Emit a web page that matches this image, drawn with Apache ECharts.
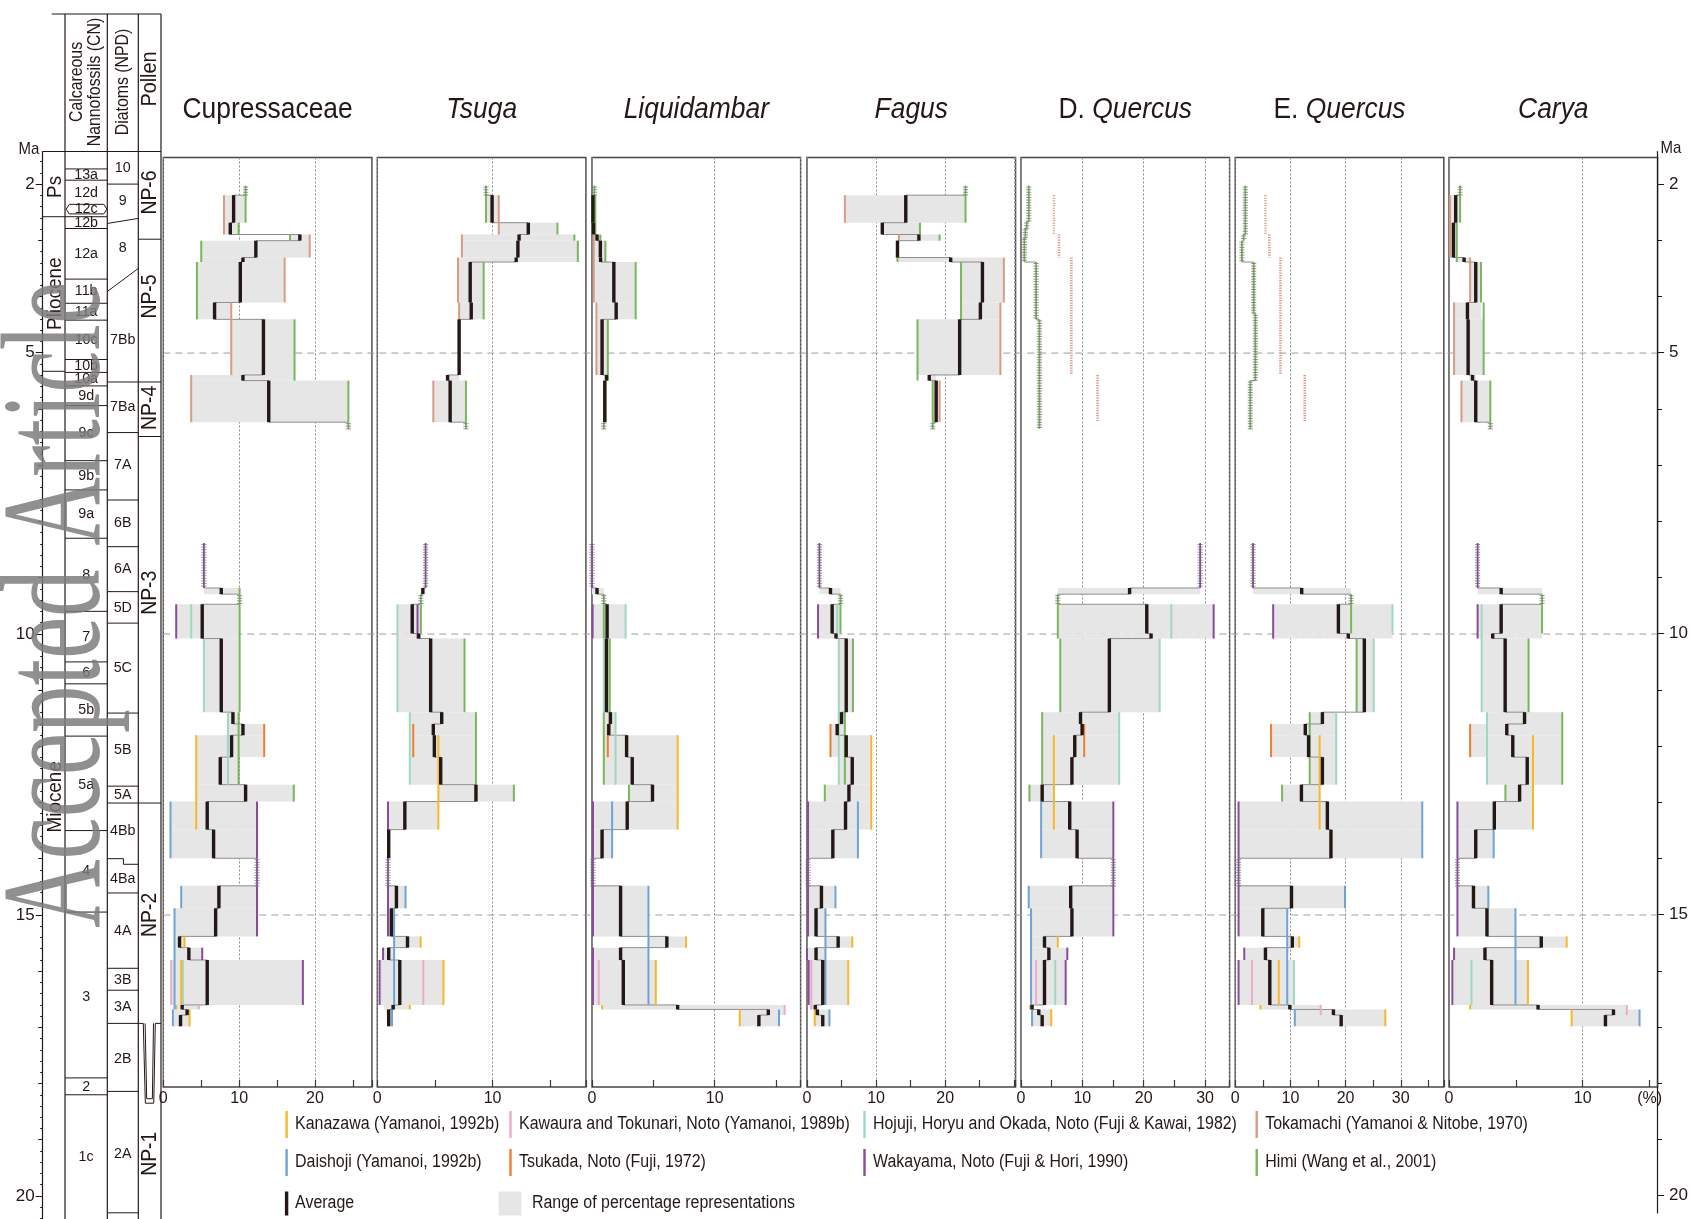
<!DOCTYPE html>
<html>
<head>
<meta charset="utf-8">
<title>Pollen percentages of selected taxa, Hokuriku region</title>
<script src="https://cdn.jsdelivr.net/npm/echarts@6/dist/echarts.min.js"></script>
<style>
  html, body { margin: 0; padding: 0; background: #ffffff; }
  #chart { width: 1691px; height: 1219px; }
</style>
</head>
<body>
<div id="chart"></div>
<script>
// ---------------------------------------------------------------------------
// Sites (legend order) and their line colours
// ---------------------------------------------------------------------------
const siteNames = [
  'Kanazawa (Yamanoi, 1992b)',
  'Daishoji (Yamanoi, 1992b)',
  'Kawaura and Tokunari, Noto (Yamanoi, 1989b)',
  'Tsukada, Noto (Fuji, 1972)',
  'Hojuji, Horyu and Okada, Noto (Fuji & Kawai, 1982)',
  'Wakayama, Noto (Fuji & Hori, 1990)',
  'Tokamachi (Yamanoi & Nitobe, 1970)',
  'Himi (Wang et al., 2001)'
];
const siteColors = ['#f6b828', '#6fa3d6', '#eeaacb', '#ee7d33', '#9fd7c2', '#8a4b9d', '#d99b87', '#79b65c'];
const KAN = 0, DAI = 1, KAW = 2, TSU = 3, HOJ = 4, WAK = 5, TOK = 6, HIM = 7;

// Taxa, x-axis extents (%) and labelled percentages
const taxa = ['Cupressaceae', 'Tsuga', 'Liquidambar', 'Fagus', 'D. Quercus', 'E. Quercus', 'Carya'];
const taxonItalic = ['', 'Tsuga', 'Liquidambar', 'Fagus', 'Quercus', 'Quercus', 'Carya'];
const axisMax = [27.5, 18.1, 17.0, 30.2, 34.0, 37.8, 15.6];
const percentLabels = [[0, 10, 20], [0, 10], [0, 10], [0, 10, 20], [0, 10, 20, 30], [0, 10, 20, 30], [0, 10]];
const percentUnitLabel = [null, null, null, null, null, null, 15]; // tick that carries "(%)"

// Age (Ma) ticks and guide lines
const maLabels = [2, 5, 10, 15, 20];
const maGuides = [5, 10, 15];

// ---------------------------------------------------------------------------
// Per-taxon data
// rows:    [topMa, bottomMa, minimum %, maximum %, average %]
// ladders: [site, topMa, bottomMa, %]   single-record intervals
// sites:   [site, topMa, bottomMa, %]
// dotted:  [site, topMa, bottomMa, %]
// ---------------------------------------------------------------------------
const cupressaceaeRows = [
  [2.19, 2.68, 8.0, 10.85, 9.27], [2.68, 2.89, 8.0, 9.93, 8.83], [2.89, 3.00, 16.7, 19.3, 18.0],
  [3.00, 3.30, 5.0, 19.3, 12.2], [3.30, 3.38, 5.0, 16.0, 10.5], [3.38, 4.10, 4.43, 16.0, 10.15],
  [4.10, 4.40, 4.43, 8.96, 6.76], [4.40, 5.39, 8.96, 17.3, 13.2], [5.39, 5.49, 3.68, 17.3, 10.5],
  [5.49, 6.23, 3.68, 24.4, 13.9],
  [9.18, 9.29, 5.35, 10.06, 7.64], [9.47, 10.08, 1.7, 10.06, 5.13], [10.08, 11.39, 5.35, 10.06, 7.64],
  [11.39, 11.60, 8.52, 9.93, 9.18], [11.60, 11.80, 8.52, 13.3, 10.5], [11.80, 12.19, 4.34, 13.3, 9.0],
  [12.19, 12.68, 4.34, 9.93, 7.51], [12.68, 12.98, 4.34, 17.2, 10.85], [12.98, 13.48, 0.95, 12.35, 5.79],
  [13.48, 13.99, 0.95, 12.35, 6.63], [14.48, 14.88, 2.36, 12.35, 7.33], [14.88, 15.38, 1.48, 12.35, 6.9],
  [15.38, 15.58, 1.48, 2.8, 2.14], [15.58, 15.80, 1.48, 5.13, 3.37], [15.80, 16.60, 1.04, 18.4, 5.79],
  [16.60, 16.68, 1.48, 4.69, 2.49], [16.68, 16.78, 1.26, 3.46, 3.14], [16.78, 16.98, 1.26, 3.46, 2.27]
];
const cupressaceaeLadders = [
  [HIM, 2.02, 2.19, 10.85], [HIM, 6.23, 6.35, 24.4], [WAK, 8.38, 9.18, 5.35], [HIM, 9.29, 9.47, 10.06], [WAK, 13.99, 14.48, 12.35]
];
const cupressaceaeSites = [
  [TOK, 2.19, 2.89, 8.0], [TOK, 2.89, 3.30, 19.3], [TOK, 3.30, 4.10, 16.0], [TOK, 4.10, 5.39, 8.96], [TOK, 5.39, 6.23, 3.68],
  [HIM, 2.19, 2.68, 10.85], [HIM, 2.68, 2.89, 9.93], [HIM, 2.89, 3.00, 16.7], [HIM, 3.00, 3.38, 5.0], [HIM, 3.38, 4.40, 4.43],
  [HIM, 4.40, 5.49, 17.3], [HIM, 5.49, 6.23, 24.4],
  [HIM, 9.18, 9.29, 10.06], [HIM, 9.47, 11.39, 10.06], [HIM, 11.39, 12.68, 9.93], [HIM, 12.68, 12.98, 17.2],
  [WAK, 9.47, 10.08, 1.7], [WAK, 12.98, 13.99, 12.35], [WAK, 14.48, 15.38, 12.35], [WAK, 15.58, 15.80, 5.13], [WAK, 15.80, 16.60, 18.4],
  [HOJ, 9.47, 10.08, 3.68], [HOJ, 10.08, 11.39, 5.35], [HOJ, 11.39, 12.68, 8.52], [HOJ, 15.80, 16.60, 2.58],
  [TSU, 11.60, 12.19, 13.3],
  [KAN, 11.80, 13.48, 4.34], [KAN, 15.38, 15.58, 2.8], [KAN, 15.80, 16.60, 2.36], [KAN, 16.60, 16.68, 1.7], [KAN, 16.68, 16.98, 3.46],
  [DAI, 12.98, 13.99, 0.95], [DAI, 14.48, 14.88, 2.36], [DAI, 14.88, 16.68, 1.48], [DAI, 16.68, 16.98, 1.26],
  [KAW, 15.80, 16.60, 1.04], [KAW, 16.60, 16.68, 4.69]
];

const tsugaRows = [
  [2.19, 2.68, 9.43, 10.54, 9.96], [2.68, 2.89, 10.54, 15.63, 13.1], [2.89, 3.00, 7.34, 17.1, 12.3],
  [3.00, 3.30, 7.34, 17.4, 12.2], [3.30, 3.38, 7.0, 17.4, 12.05], [3.38, 4.10, 7.0, 9.23, 8.06],
  [4.10, 4.40, 7.1, 9.23, 8.15], [4.40, 5.39, 7.1, 7.1, 7.1], [5.39, 5.49, 6.1, 7.1, 6.1],
  [5.49, 6.23, 4.86, 7.69, 6.32],
  [9.18, 9.29, 3.78, 4.19, 3.95], [9.47, 9.99, 1.75, 3.78, 3.03], [9.99, 10.08, 1.75, 3.78, 3.6],
  [10.08, 11.39, 1.75, 7.57, 4.63], [11.39, 11.60, 2.82, 8.56, 5.59], [11.60, 11.80, 2.82, 8.56, 4.86],
  [11.80, 12.19, 2.82, 8.56, 4.95], [12.19, 12.68, 2.82, 8.56, 5.5], [12.68, 12.98, 5.3, 11.85, 8.56],
  [12.98, 13.48, 0.93, 5.3, 2.39], [13.48, 13.99, 0.93, 0.99, 0.99], [14.48, 14.88, 0.93, 2.45, 1.66],
  [14.88, 15.38, 0.93, 1.46, 1.22], [15.38, 15.58, 1.46, 3.76, 2.62], [15.58, 15.80, 0.5, 1.46, 0.99],
  [15.80, 16.60, 0.2, 5.74, 1.95], [16.60, 16.68, 0.6, 2.82, 1.37], [16.68, 16.98, 0.9, 1.28, 0.99]
];
const tsugaLadders = [
  [HIM, 2.02, 2.19, 9.43], [HIM, 6.23, 6.35, 7.69], [WAK, 8.38, 9.18, 4.19], [HIM, 9.29, 9.47, 3.78], [WAK, 13.99, 14.48, 0.93]
];
const tsugaSites = [
  [TOK, 2.19, 2.89, 10.54], [TOK, 2.89, 3.30, 7.34], [TOK, 3.30, 4.10, 7.0], [TOK, 4.10, 5.39, 7.1], [TOK, 5.49, 6.23, 4.86],
  [HIM, 2.19, 2.68, 9.43], [HIM, 2.68, 2.89, 15.63], [HIM, 2.89, 3.00, 17.1], [HIM, 3.00, 3.38, 17.4], [HIM, 3.38, 4.40, 9.23],
  [HIM, 5.49, 6.23, 7.69],
  [HIM, 9.47, 9.99, 3.78], [HIM, 10.08, 11.39, 7.57], [HIM, 11.39, 12.68, 8.56], [HIM, 12.68, 12.98, 11.85],
  [WAK, 9.47, 10.08, 3.49], [WAK, 12.98, 13.99, 0.93], [WAK, 14.48, 15.38, 0.93], [WAK, 15.58, 15.80, 0.5], [WAK, 15.80, 16.60, 0.2],
  [HOJ, 9.47, 11.39, 1.75], [HOJ, 11.39, 12.68, 2.82],
  [TSU, 11.60, 12.19, 3.12],
  [KAN, 11.80, 13.48, 5.3], [KAN, 15.38, 15.58, 3.76], [KAN, 15.80, 16.60, 5.74], [KAN, 16.60, 16.68, 2.82], [KAN, 16.68, 16.78, 0.9],
  [DAI, 14.48, 14.88, 2.45], [DAI, 14.88, 16.68, 1.46], [DAI, 16.68, 16.98, 1.28],
  [KAW, 15.80, 16.60, 3.99]
];

const liquidambarRows = [
  [2.19, 2.68, 0.0, 0.27, 0.08], [2.68, 2.89, 0.0, 0.3, 0.12], [2.89, 3.00, 0.14, 0.68, 0.41],
  [3.00, 3.30, 0.14, 1.09, 0.68], [3.30, 3.38, 0.14, 1.09, 0.7], [3.38, 4.10, 0.14, 3.56, 1.78],
  [4.10, 4.40, 0.36, 3.56, 1.97], [4.40, 5.39, 0.36, 1.29, 0.82], [5.39, 5.49, 1.18, 1.18, 1.18],
  [5.49, 6.23, 0.96, 1.1, 1.04],
  [9.18, 9.29, 0.0, 0.96, 0.41], [9.47, 10.08, 0.05, 2.74, 1.23], [10.08, 11.39, 0.96, 1.45, 1.18],
  [11.39, 11.60, 0.96, 1.92, 1.5], [11.60, 11.80, 0.96, 1.92, 1.37], [11.80, 12.19, 0.96, 6.98, 2.82],
  [12.19, 12.68, 0.96, 6.98, 3.28], [12.68, 12.98, 3.01, 6.98, 4.93], [12.98, 13.48, 0.08, 6.98, 2.87],
  [13.48, 13.99, 0.08, 1.64, 0.82], [14.48, 15.38, 0.08, 4.6, 2.33], [15.38, 15.58, 4.6, 7.66, 6.1],
  [15.58, 15.80, 0.08, 4.6, 2.33], [15.80, 16.60, 0.08, 5.2, 2.55], [16.60, 16.68, 0.82, 15.7, 6.98],
  [16.68, 16.78, 12.04, 15.7, 14.37], [16.78, 16.98, 12.04, 15.24, 13.6]
];
const liquidambarLadders = [
  [HIM, 2.02, 2.19, 0.19], [HIM, 6.23, 6.35, 0.96], [WAK, 8.38, 9.18, 0.0], [HIM, 9.29, 9.47, 0.96], [WAK, 13.99, 14.48, 0.08]
];
const liquidambarSites = [
  [TOK, 2.89, 4.10, 0.14], [TOK, 4.10, 5.39, 0.36],
  [HIM, 2.19, 2.89, 0.27], [HIM, 2.89, 3.00, 0.68], [HIM, 3.00, 3.38, 1.09], [HIM, 3.38, 4.40, 3.56], [HIM, 4.40, 5.49, 1.29],
  [HIM, 5.49, 6.23, 1.1],
  [HIM, 9.47, 10.08, 0.96], [HIM, 10.08, 11.39, 1.45], [HIM, 11.39, 12.68, 0.96], [HIM, 12.68, 12.98, 3.01],
  [WAK, 9.47, 10.08, 0.05], [WAK, 12.98, 13.99, 0.08], [WAK, 14.48, 15.38, 0.08], [WAK, 15.58, 15.80, 0.08], [WAK, 15.80, 16.60, 0.08],
  [HOJ, 9.47, 10.08, 2.74], [HOJ, 10.08, 11.39, 0.96], [HOJ, 11.39, 12.68, 1.92],
  [TSU, 11.60, 12.19, 1.29],
  [KAN, 11.80, 13.48, 6.98], [KAN, 15.38, 15.58, 7.66], [KAN, 15.80, 16.60, 5.2], [KAN, 16.60, 16.68, 0.82], [KAN, 16.68, 16.98, 12.04],
  [DAI, 12.98, 13.99, 1.64], [DAI, 14.48, 16.60, 4.6], [DAI, 16.68, 16.98, 15.24],
  [KAW, 15.80, 16.60, 0.55], [KAW, 16.60, 16.78, 15.7]
];

const fagusRows = [
  [2.19, 2.68, 5.48, 22.95, 14.3], [2.68, 2.89, 10.9, 16.35, 10.9], [2.89, 3.00, 13.3, 19.2, 16.2],
  [3.00, 3.30, 12.9, 13.3, 13.1], [3.30, 3.38, 13.2, 28.4, 20.8], [3.38, 4.10, 22.3, 28.5, 25.4],
  [4.10, 4.40, 22.3, 28.0, 25.1], [4.40, 5.39, 16.0, 28.0, 22.1], [5.39, 5.49, 17.7, 18.7, 17.7],
  [5.49, 6.23, 18.2, 19.2, 18.7],
  [9.18, 9.29, 1.8, 4.85, 3.4], [9.47, 9.99, 1.6, 4.85, 3.64], [9.99, 10.08, 1.6, 4.85, 4.2],
  [10.08, 11.39, 4.6, 6.65, 5.68], [11.39, 11.60, 4.6, 5.48, 5.0], [11.60, 11.80, 3.4, 5.48, 4.37],
  [11.80, 12.19, 3.4, 9.3, 5.68], [12.19, 12.68, 4.6, 9.3, 6.55], [12.68, 12.98, 2.57, 9.3, 6.07],
  [12.98, 13.48, 0.15, 9.3, 5.58], [13.48, 13.99, 0.15, 7.37, 3.74], [14.48, 14.88, 0.15, 4.12, 2.09],
  [14.88, 15.38, 0.15, 2.67, 1.31], [15.38, 15.58, 2.67, 6.55, 4.51], [15.58, 15.80, 0.0, 2.67, 1.31],
  [15.80, 16.60, 0.24, 5.97, 2.28], [16.60, 16.68, 0.5, 1.8, 1.2], [16.68, 16.78, 1.12, 3.25, 1.5],
  [16.78, 16.98, 1.12, 3.25, 2.28]
];
const fagusLadders = [
  [HIM, 2.02, 2.19, 22.95], [HIM, 6.23, 6.35, 18.2], [WAK, 8.38, 9.18, 1.8], [HIM, 9.29, 9.47, 4.85], [WAK, 13.99, 14.48, 0.15]
];
const fagusSites = [
  [TOK, 2.19, 2.68, 5.48], [TOK, 2.89, 3.00, 13.3], [TOK, 3.30, 4.10, 28.5], [TOK, 4.10, 5.39, 28.0], [TOK, 5.49, 6.23, 19.2],
  [HIM, 2.19, 2.68, 22.95], [HIM, 2.68, 2.89, 16.35], [HIM, 2.89, 3.00, 19.2], [HIM, 3.00, 3.38, 13.1], [HIM, 3.38, 4.40, 22.3],
  [HIM, 4.40, 5.49, 16.0], [HIM, 5.49, 6.23, 18.2],
  [HIM, 9.47, 9.99, 4.85], [HIM, 10.08, 11.39, 6.65], [HIM, 11.39, 12.68, 5.48], [HIM, 12.68, 12.98, 2.57],
  [WAK, 9.47, 10.08, 1.6], [WAK, 12.98, 13.99, 0.15], [WAK, 14.48, 15.38, 0.15], [WAK, 15.58, 15.80, 0.0], [WAK, 15.80, 16.60, 0.24],
  [HOJ, 9.47, 9.99, 4.37], [HOJ, 10.08, 12.68, 4.6],
  [TSU, 11.60, 12.19, 3.4],
  [KAN, 11.80, 13.48, 9.3], [KAN, 15.38, 15.58, 6.55], [KAN, 15.80, 16.60, 5.97], [KAN, 16.68, 16.98, 1.12],
  [DAI, 12.98, 13.99, 7.37], [DAI, 14.48, 14.88, 4.12], [DAI, 14.88, 16.60, 2.67], [DAI, 16.68, 16.98, 3.25],
  [KAW, 15.80, 16.60, 0.63], [KAW, 16.60, 16.68, 0.6]
];

const dQuercusRows = [
  [9.18, 9.29, 6.0, 29.2, 17.7], [9.47, 9.99, 6.0, 31.4, 20.5], [9.99, 10.08, 6.0, 31.4, 21.2],
  [10.08, 11.39, 6.4, 22.6, 14.4], [11.39, 11.60, 3.45, 16.0, 9.7], [11.60, 11.80, 3.45, 16.0, 9.96],
  [11.80, 12.19, 3.45, 16.0, 8.76], [12.19, 12.68, 3.45, 16.0, 8.3], [12.68, 12.98, 1.37, 5.36, 3.45],
  [12.98, 13.48, 3.28, 15.05, 7.94], [13.48, 13.99, 3.28, 15.05, 9.14], [14.48, 14.88, 1.26, 15.05, 8.1],
  [14.88, 15.38, 1.64, 15.05, 8.3], [15.38, 15.58, 1.64, 6.0, 3.83], [15.58, 15.80, 1.64, 7.55, 4.54],
  [15.80, 16.60, 1.64, 7.28, 3.83], [16.60, 16.68, 1.4, 2.0, 1.8], [16.68, 16.78, 1.8, 4.93, 2.9],
  [16.78, 16.98, 1.8, 4.93, 3.45]
];
const dQuercusLadders = [
  [HIM, 2.02, 2.66, 1.26], [HIM, 2.66, 2.78, 0.93], [HIM, 2.78, 2.95, 0.71], [HIM, 2.95, 3.38, 0.55],
  [HIM, 3.38, 4.40, 2.46], [HIM, 4.40, 6.35, 3.0],
  [WAK, 8.38, 9.18, 29.2], [HIM, 9.29, 9.47, 6.0], [WAK, 13.99, 14.48, 15.05]
];
const dQuercusDotted = [[TOK, 2.19, 2.89, 5.36], [TOK, 2.89, 3.30, 6.19], [TOK, 3.30, 5.39, 8.21], [TOK, 5.39, 6.21, 12.48]];
const dQuercusSites = [
  [HIM, 9.47, 10.08, 6.0], [HIM, 10.08, 11.39, 6.4], [HIM, 11.39, 12.68, 3.45], [HIM, 12.68, 12.98, 1.37],
  [WAK, 9.47, 10.08, 31.4], [WAK, 12.98, 13.99, 15.05], [WAK, 14.48, 15.38, 15.05], [WAK, 15.58, 15.80, 7.55], [WAK, 15.80, 16.60, 7.28],
  [HOJ, 9.47, 10.08, 24.5], [HOJ, 10.08, 11.39, 22.6], [HOJ, 11.39, 12.68, 16.0], [HOJ, 15.80, 16.60, 5.58],
  [TSU, 11.60, 12.19, 10.3],
  [KAN, 11.80, 13.48, 5.36], [KAN, 15.38, 15.58, 6.0], [KAN, 16.60, 16.68, 1.5], [KAN, 16.68, 16.98, 4.93],
  [DAI, 12.98, 13.99, 3.28], [DAI, 14.48, 14.88, 1.26], [DAI, 14.88, 16.60, 1.64], [DAI, 16.68, 16.98, 1.8],
  [KAW, 15.80, 16.60, 2.46], [KAW, 16.60, 16.68, 1.9]
];

const eQuercusRows = [
  [9.18, 9.29, 3.23, 21.0, 12.05], [9.47, 9.99, 6.88, 28.5, 18.7], [9.99, 10.08, 6.88, 28.5, 20.5],
  [10.08, 11.39, 22.0, 25.1, 23.4], [11.39, 11.60, 13.5, 18.3, 15.8], [11.60, 11.80, 6.5, 18.3, 12.7],
  [11.80, 12.19, 6.5, 18.3, 13.3], [12.19, 12.68, 13.5, 18.3, 15.8], [12.68, 12.98, 8.5, 15.3, 12.0],
  [12.98, 13.48, 0.61, 33.9, 16.7], [13.48, 13.99, 0.61, 33.9, 17.35], [14.48, 14.88, 0.61, 19.9, 10.2],
  [14.88, 15.38, 0.61, 9.43, 5.0], [15.38, 15.58, 9.43, 11.6, 10.35], [15.58, 15.80, 1.64, 9.43, 5.48],
  [15.80, 16.60, 0.61, 10.65, 6.27], [16.60, 16.68, 4.56, 15.5, 9.9], [16.68, 16.78, 10.8, 27.2, 17.8],
  [16.78, 16.98, 10.8, 27.2, 19.2]
];
const eQuercusLadders = [
  [HIM, 2.02, 2.89, 1.83], [HIM, 2.89, 3.00, 1.52], [HIM, 3.00, 3.38, 1.22], [HIM, 3.38, 4.30, 3.35],
  [HIM, 4.30, 5.49, 3.65], [HIM, 5.49, 6.35, 2.74],
  [WAK, 8.38, 9.18, 3.23], [HIM, 9.29, 9.47, 21.0], [WAK, 13.99, 14.48, 0.61]
];
const eQuercusDotted = [[TOK, 2.19, 2.89, 5.48], [TOK, 2.89, 3.30, 6.2], [TOK, 3.30, 5.39, 8.2], [TOK, 5.39, 6.21, 12.6]];
const eQuercusSites = [
  [HIM, 9.47, 9.99, 21.0], [HIM, 10.08, 11.39, 22.0], [HIM, 11.39, 12.68, 13.5], [HIM, 12.68, 12.98, 8.5],
  [WAK, 9.47, 10.08, 6.88], [WAK, 12.98, 13.99, 0.61], [WAK, 14.48, 15.38, 0.61], [WAK, 15.58, 15.80, 1.64], [WAK, 15.80, 16.60, 0.61],
  [HOJ, 9.47, 9.99, 28.5], [HOJ, 10.08, 11.39, 25.1], [HOJ, 11.39, 12.68, 18.3], [HOJ, 15.80, 16.60, 10.65],
  [TSU, 11.60, 12.19, 6.5],
  [KAN, 11.80, 13.48, 15.3], [KAN, 15.38, 15.58, 11.6], [KAN, 15.80, 16.60, 7.9], [KAN, 16.60, 16.68, 4.56], [KAN, 16.68, 16.98, 27.2],
  [DAI, 12.98, 13.99, 33.9], [DAI, 14.48, 14.88, 19.9], [DAI, 14.88, 16.60, 9.43], [DAI, 16.68, 16.98, 10.8],
  [KAW, 15.80, 16.60, 3.04], [KAW, 16.60, 16.78, 15.5]
];

const caryaRows = [
  [2.19, 2.68, 0.08, 0.83, 0.5], [2.68, 3.30, 0.08, 0.58, 0.33], [3.30, 3.38, 0.6, 1.58, 1.13],
  [3.38, 4.10, 1.58, 2.39, 2.0], [4.10, 4.40, 0.38, 2.39, 1.38], [4.40, 5.39, 0.38, 2.59, 1.43],
  [5.39, 5.49, 1.5, 2.0, 1.76], [5.49, 6.23, 0.93, 3.09, 2.0],
  [9.18, 9.29, 2.14, 6.96, 3.9], [9.47, 9.99, 2.14, 6.96, 3.9], [9.99, 10.08, 2.14, 6.96, 3.27],
  [10.08, 11.39, 2.44, 5.95, 4.2], [11.39, 11.60, 2.84, 8.47, 5.65], [11.60, 11.80, 1.58, 8.47, 4.32],
  [11.80, 12.19, 1.58, 8.47, 4.77], [12.19, 12.68, 2.84, 8.47, 5.85], [12.68, 12.98, 4.22, 6.28, 5.28],
  [12.98, 13.48, 0.63, 6.28, 3.39], [13.48, 13.99, 0.63, 3.34, 2.0], [14.48, 14.88, 0.63, 2.94, 1.83],
  [14.88, 15.38, 0.63, 4.97, 2.84], [15.38, 15.58, 4.97, 8.8, 6.9], [15.58, 15.80, 0.38, 4.97, 2.69],
  [15.80, 16.60, 0.25, 5.9, 3.19], [16.60, 16.68, 1.58, 13.3, 6.66], [16.68, 16.78, 9.17, 14.25, 12.3],
  [16.78, 16.98, 9.17, 14.25, 11.7]
];
const caryaLadders = [
  [HIM, 2.02, 2.19, 0.83], [HIM, 6.23, 6.35, 3.09], [WAK, 8.38, 9.18, 2.14], [HIM, 9.29, 9.47, 6.96], [WAK, 13.99, 14.48, 0.63]
];
const caryaSites = [
  [TOK, 2.19, 3.30, 0.08], [TOK, 3.30, 4.10, 1.58], [TOK, 4.10, 5.39, 0.38], [TOK, 5.49, 6.23, 0.93],
  [HIM, 2.19, 2.68, 0.83], [HIM, 2.68, 3.38, 0.58], [HIM, 3.38, 4.10, 2.39], [HIM, 4.10, 5.39, 2.59], [HIM, 5.49, 6.23, 3.09],
  [HIM, 9.47, 9.99, 6.96], [HIM, 10.08, 11.39, 5.95], [HIM, 11.39, 12.68, 8.47], [HIM, 12.68, 12.98, 4.22],
  [WAK, 9.47, 10.08, 2.14], [WAK, 12.98, 13.99, 0.63], [WAK, 14.48, 15.38, 0.63], [WAK, 15.58, 15.80, 0.38], [WAK, 15.80, 16.60, 0.25],
  [HOJ, 9.47, 11.39, 2.44], [HOJ, 11.39, 12.68, 2.84], [HOJ, 15.80, 16.60, 1.68],
  [TSU, 11.60, 12.19, 1.58],
  [KAN, 11.80, 13.48, 6.28], [KAN, 15.38, 15.58, 8.8], [KAN, 15.80, 16.60, 5.9], [KAN, 16.60, 16.68, 1.58], [KAN, 16.68, 16.98, 9.17],
  [DAI, 13.48, 13.99, 3.34], [DAI, 14.48, 14.88, 2.94], [DAI, 14.88, 16.60, 4.97], [DAI, 16.68, 16.98, 14.25],
  [KAW, 16.60, 16.78, 13.3]
];

// ---------------------------------------------------------------------------
// Stratigraphic columns (ages in Ma)
// ---------------------------------------------------------------------------
const epochBounds = [2.58, 5.33];
const epochLabels = [[2.05, 'Ps'], [3.95, 'Pliocene'], [12.9, 'Miocene']];
const cnBounds = [1.73, 1.93, 2.58, 2.79, 3.69, 4.12, 4.42, 5.12, 5.35, 5.59, 5.94, 6.92, 7.44, 8.30, 9.60, 10.50, 10.89, 11.82, 13.50, 14.95, 17.90, 18.20];
const cn12c = [2.36, 2.53];
const cnLabels = [
  [1.83, '13a'], [2.15, '12d'], [2.445, '12c'], [2.68, '12b'], [3.23, '12a'], [3.9, '11b'], [4.27, '11a'], [4.77, '10c'],
  [5.23, '10b'], [5.47, '10a'], [5.77, '9d'], [6.43, '9c'], [7.18, '9b'], [7.87, '9a'], [8.95, '8'], [10.05, '7'],
  [10.7, '6'], [11.35, '5b'], [12.69, '5a'], [14.22, '4'], [16.45, '3'], [18.05, '2'], [19.3, '1c']
];
const npdBounds = [2.0, 5.52, 6.42, 7.62, 8.45, 9.25, 9.81, 11.41, 12.71, 13.01, 14.61, 15.95, 16.34, 16.93, 18.14, 20.3];
const npdSlants = [[2.70, 2.61], [3.91, 3.50]];
const npdStep = [14.0, 14.1];
const npdLabels = [
  [1.71, '10'], [2.3, '9'], [3.14, '8'], [4.77, '7Bb'], [5.96, '7Ba'], [7.0, '7A'], [8.03, '6B'], [8.85, '6A'],
  [9.53, '5D'], [10.61, '5C'], [12.06, '5B'], [12.86, '5A'], [13.5, '4Bb'], [14.35, '4Ba'], [15.28, '4A'],
  [16.15, '3B'], [16.63, '3A'], [17.55, '2B'], [19.25, '2A']
];
const pollenBounds = [2.98, 5.52, 6.49, 13.01];
const pollenNotch = [16.93, 18.35];
const pollenLabels = [[2.15, 'NP-6'], [4.0, 'NP-5'], [5.98, 'NP-4'], [9.27, 'NP-3'], [15.0, 'NP-2'], [19.25, 'NP-1']];

// ---------------------------------------------------------------------------
// Layout
// ---------------------------------------------------------------------------
const FONT = '"Liberation Sans", Arial, Helvetica, sans-serif';
const INK = '#231815';
const RANGE_FILL = '#e6e6e6';
const panelLeft = [163.3, 377.3, 592, 807, 1021, 1235.2, 1449];
const panelWidth = 208.6;
const plotTop = 157.5, plotBottom = 1087;
const maTop = 1.52, maBottom = 18.06;
const stratTop = 151.5, stratBottom = 1219, stratMaTop = 1.42, stratMaBottom = 20.41;
const stratCols = [42.7, 65, 107.3, 138.3, 161];
const headerTop = 14;

const panels = [
  { rows: cupressaceaeRows, ladders: cupressaceaeLadders, sites: cupressaceaeSites, dotted: [] },
  { rows: tsugaRows, ladders: tsugaLadders, sites: tsugaSites, dotted: [] },
  { rows: liquidambarRows, ladders: liquidambarLadders, sites: liquidambarSites, dotted: [] },
  { rows: fagusRows, ladders: fagusLadders, sites: fagusSites, dotted: [] },
  { rows: dQuercusRows, ladders: dQuercusLadders, sites: dQuercusSites, dotted: dQuercusDotted },
  { rows: eQuercusRows, ladders: eQuercusLadders, sites: eQuercusSites, dotted: eQuercusDotted },
  { rows: caryaRows, ladders: caryaLadders, sites: caryaSites, dotted: [] }
];

// ---------------------------------------------------------------------------
// Render helpers for custom series
// ---------------------------------------------------------------------------
function renderRange(params, api) {
  const a = api.coord([api.value(2), api.value(0)]);
  const b = api.coord([api.value(3), api.value(1)]);
  if (b[0] - a[0] < 0.3) return null;
  return { type: 'rect', shape: { x: a[0], y: a[1], width: b[0] - a[0], height: b[1] - a[1] }, style: { fill: RANGE_FILL } };
}
function renderStep(params, api) {
  const a = api.coord([api.value(1), api.value(0)]);
  const b = api.coord([api.value(2), api.value(0)]);
  return { type: 'line', shape: { x1: a[0], y1: a[1], x2: b[0], y2: b[1] }, style: { stroke: '#8e8e8e', lineWidth: 1 } };
}
function renderSite(params, api) {
  const s = api.value(0);
  const a = api.coord([api.value(3), api.value(1)]);
  const b = api.coord([api.value(3), api.value(2)]);
  return { type: 'line', shape: { x1: a[0], y1: a[1], x2: b[0], y2: b[1] }, style: { stroke: siteColors[s], lineWidth: 2 } };
}
function renderDotted(params, api) {
  const s = api.value(0);
  const a = api.coord([api.value(3), api.value(1)]);
  const b = api.coord([api.value(3), api.value(2)]);
  return { type: 'line', shape: { x1: a[0], y1: a[1], x2: b[0], y2: b[1] },
    style: { stroke: siteColors[s], lineWidth: 2.6, lineDash: [1.2, 1.3] } };
}
function renderLadder(params, api) {
  const s = api.value(0);
  const a = api.coord([api.value(3), api.value(1)]);
  const b = api.coord([api.value(3), api.value(2)]);
  const children = [{ type: 'line', shape: { x1: a[0], y1: a[1], x2: b[0], y2: b[1] }, style: { stroke: siteColors[s], lineWidth: 1.8 } }];
  for (let y = a[1] + 1.5; y < b[1]; y += 2.6) {
    children.push({ type: 'line', shape: { x1: a[0] - 2.6, y1: y, x2: a[0] + 2.6, y2: y }, style: { stroke: '#6a6a6a', lineWidth: 0.7 } });
  }
  return { type: 'group', children };
}
function renderAverage(params, api) {
  const a = api.coord([api.value(4), api.value(0)]);
  const b = api.coord([api.value(4), api.value(1)]);
  return { type: 'rect', shape: { x: a[0] - 1.7, y: a[1], width: 3.4, height: b[1] - a[1] }, style: { fill: INK } };
}
function renderGuide(params, api) {
  const a = api.coord([0, api.value(0)]);
  const b = api.coord([1, api.value(0)]);
  return { type: 'line', shape: { x1: a[0], y1: a[1], x2: b[0], y2: b[1] }, style: { stroke: '#9d9d9d', lineWidth: 1, lineDash: [7, 5] } };
}

// stepped connectors between consecutive averages
function buildSteps(rows, ladders) {
  const seq = rows.map(r => [r[0], r[1], r[4]]).concat(ladders.map(l => [l[1], l[2], l[3]]));
  seq.sort((p, q) => p[0] - q[0]);
  const out = [];
  for (let k = 1; k < seq.length; k++) {
    if (Math.abs(seq[k - 1][1] - seq[k][0]) < 0.02) out.push([seq[k][0], seq[k - 1][2], seq[k][2]]);
  }
  return out;
}

function renderStrat(params, api) {
  const Y = ma => api.coord([0, ma])[1];
  const C = stratCols;
  const els = [];
  const line = (x1, y1, x2, y2, w) => els.push({ type: 'line', shape: { x1, y1, x2, y2 }, style: { stroke: INK, lineWidth: w || 1 } });
  const poly = pts => els.push({ type: 'polyline', shape: { points: pts }, style: { stroke: INK, lineWidth: 1, fill: 'none' } });
  const text = (x, y, t, size, rot, sx) => els.push({ type: 'text', x, y, rotation: rot || 0, scaleX: sx || 1,
    style: { text: t, fill: INK, font: size + 'px ' + FONT, align: 'center', verticalAlign: 'middle' } });

  // frame
  [C[1], C[2], C[3], C[4]].forEach(x => line(x, headerTop, x, stratBottom, 1.2));
  line(51.7, headerTop, C[4], headerTop, 1.2);
  line(C[0], Y(stratMaTop), C[4], Y(stratMaTop), 1.2);

  // epochs
  epochBounds.forEach(m => line(C[0], Y(m), C[1], Y(m)));
  epochLabels.forEach(([m, t]) => text((C[0] + C[1]) / 2 + 1, Y(m), t, 21, Math.PI / 2, 0.9));

  // calcareous nannofossil zones
  const wCN = C[2] - C[1];
  cnBounds.forEach(m => line(C[1], Y(m), C[2], Y(m)));
  const hx = f => C[1] + f * wCN;
  poly([[hx(0.03), Y((cn12c[0] + cn12c[1]) / 2)], [hx(0.1), Y(cn12c[0])], [hx(0.92), Y(cn12c[0])],
        [hx(0.99), Y((cn12c[0] + cn12c[1]) / 2)], [hx(0.92), Y(cn12c[1])], [hx(0.1), Y(cn12c[1])],
        [hx(0.03), Y((cn12c[0] + cn12c[1]) / 2)]]);
  cnLabels.forEach(([m, t]) => text((C[1] + C[2]) / 2, Y(m), t, 15.5, 0, 0.92));

  // diatom zones
  npdBounds.forEach(m => line(C[2], Y(m), C[3], Y(m)));
  npdSlants.forEach(([l, r]) => line(C[2], Y(l), C[3], Y(r)));
  const xs = C[2] + 0.52 * (C[3] - C[2]);
  poly([[C[2], Y(npdStep[0])], [xs, Y(npdStep[0])], [xs, Y(npdStep[1])], [C[3], Y(npdStep[1])]]);
  npdLabels.forEach(([m, t]) => text((C[2] + C[3]) / 2, Y(m), t, 15.5, 0, 0.92));

  // pollen zones
  const wP = C[4] - C[3];
  const px = f => C[3] + f * wP;
  pollenBounds.forEach(m => line(C[3], Y(m), C[4], Y(m)));
  poly([[C[3], Y(pollenNotch[0])], [px(0.22), Y(pollenNotch[0])], [px(0.31), Y(pollenNotch[1])],
        [px(0.68), Y(pollenNotch[1])], [px(0.75), Y(pollenNotch[0])], [C[4], Y(pollenNotch[0])]]);
  poly([[px(0.3), Y(pollenNotch[0])], [px(0.37), Y(pollenNotch[1] - 0.08)], [px(0.62), Y(pollenNotch[1] - 0.08)], [px(0.67), Y(pollenNotch[0])]]);
  pollenLabels.forEach(([m, t]) => text((C[3] + C[4]) / 2 + 0.5, Y(m), t, 22, Math.PI / 2, 0.88));

  // column headings
  text((C[1] + C[2]) / 2, 82, 'Calcareous\nNannofossils (CN)', 18, Math.PI / 2, 0.88);
  text((C[2] + C[3]) / 2, 82, 'Diatoms (NPD)', 18, Math.PI / 2, 0.88);
  text((C[3] + C[4]) / 2, 79, 'Pollen', 22, Math.PI / 2, 0.9);
  return { type: 'group', children: els };
}

// ---------------------------------------------------------------------------
// Build option
// ---------------------------------------------------------------------------
const grid = [], xAxis = [], yAxis = [], series = [];

panels.forEach((p, i) => {
  grid.push({ left: panelLeft[i], top: plotTop, width: panelWidth, height: plotBottom - plotTop,
    show: true, borderColor: '#4a4544', borderWidth: 1.4, backgroundColor: 'transparent' });
  const labels = percentLabels[i];
  xAxis.push({
    gridIndex: i, type: 'value', min: 0, max: axisMax[i], interval: 5, position: 'bottom',
    axisLine: { show: false },
    axisTick: { show: true, inside: true, length: 7, lineStyle: { color: '#3e3a39', width: 1.2 } },
    splitLine: { show: false },
    axisLabel: {
      show: true, interval: 0, margin: 4, fontSize: 16, color: INK, fontFamily: FONT,
      formatter: v => labels.indexOf(v) >= 0 ? String(v) : (percentUnitLabel[i] === v ? '(%)' : '')
    }
  });
  xAxis.push({
    gridIndex: i, type: 'value', min: 0, max: axisMax[i], interval: 10, position: 'top',
    axisLine: { show: false }, axisTick: { show: false }, axisLabel: { show: false },
    splitLine: { show: true, lineStyle: { type: [2, 2], color: '#8a8a8a', width: 1 } }
  });
  yAxis.push({ gridIndex: i, type: 'value', inverse: true, min: maTop, max: maBottom, show: false });

  const xi = 2 * i;
  series.push({ type: 'custom', xAxisIndex: xi, yAxisIndex: i, silent: true, z: 2, renderItem: renderRange, data: p.rows });
  series.push({ type: 'custom', xAxisIndex: xi, yAxisIndex: i, silent: true, z: 3, renderItem: renderStep, data: buildSteps(p.rows, p.ladders) });
  series.push({ type: 'custom', xAxisIndex: xi, yAxisIndex: i, silent: true, z: 4, renderItem: renderSite, data: p.sites });
  if (p.dotted.length) series.push({ type: 'custom', xAxisIndex: xi, yAxisIndex: i, silent: true, z: 4, renderItem: renderDotted, data: p.dotted });
  series.push({ type: 'custom', xAxisIndex: xi, yAxisIndex: i, silent: true, z: 5, renderItem: renderLadder, data: p.ladders });
  series.push({ type: 'custom', xAxisIndex: xi, yAxisIndex: i, silent: true, z: 6, renderItem: renderAverage, data: p.rows });
});

// guide lines across all panels
const gGuide = grid.length;
grid.push({ left: panelLeft[0], top: plotTop, width: 1657 - panelLeft[0], height: plotBottom - plotTop });
xAxis.push({ gridIndex: gGuide, type: 'value', min: 0, max: 1, show: false });
yAxis.push({ gridIndex: gGuide, type: 'value', inverse: true, min: maTop, max: maBottom, show: false });
series.push({ type: 'custom', xAxisIndex: xAxis.length - 1, yAxisIndex: yAxis.length - 1, silent: true, z: 1,
  renderItem: renderGuide, data: maGuides.map(v => [v]) });

// stratigraphic columns with the left age axis
const maMinorTicks = [];
for (let k = 8; k <= 102; k++) maMinorTicks.push(k / 5);
const maUnitTicks = [];
for (let k = 2; k <= 20; k++) maUnitTicks.push(k);

const gStrat = grid.length;
grid.push({ left: stratCols[0], top: stratTop, width: stratCols[4] - stratCols[0], height: stratBottom - stratTop });
xAxis.push({ gridIndex: gStrat, type: 'value', min: 0, max: 1, show: false });
const stratX = xAxis.length - 1;
const leftAxis = (ticks, len, showLine, labels) => ({
  gridIndex: gStrat, type: 'value', inverse: true, min: stratMaTop, max: stratMaBottom, position: 'left',
  axisLine: { show: showLine, lineStyle: { color: INK, width: 1.2 } },
  axisTick: { show: true, length: len, customValues: ticks, lineStyle: { color: INK, width: 1 } },
  axisLabel: labels ? { show: true, customValues: labels, margin: 8, fontSize: 17, color: INK, fontFamily: FONT } : { show: false },
  splitLine: { show: false }
});
yAxis.push(leftAxis(maMinorTicks, 2.5, true, null));
const stratY = yAxis.length - 1;
yAxis.push(leftAxis(maUnitTicks, 4.5, false, null));
yAxis.push(leftAxis(maLabels, 7, false, maLabels));
series.push({ type: 'custom', xAxisIndex: stratX, yAxisIndex: stratY, silent: true, z: 3, renderItem: renderStrat, data: [[0]] });

// right age axis
const gRight = grid.length;
grid.push({ left: 1657.5, top: stratTop, width: 1, height: 1213 - stratTop });
xAxis.push({ gridIndex: gRight, type: 'value', min: 0, max: 1, show: false });
const rightAxis = (ticks, len, showLine, labels) => ({
  gridIndex: gRight, type: 'value', inverse: true, min: stratMaTop, max: stratMaTop + (1213 - stratTop) / 56.2, position: 'right',
  axisLine: { show: showLine, lineStyle: { color: INK, width: 1.2 } },
  axisTick: { show: true, length: len, customValues: ticks, lineStyle: { color: INK, width: 1 } },
  axisLabel: labels ? { show: true, customValues: labels, margin: 11, fontSize: 17, color: INK, fontFamily: FONT } : { show: false },
  splitLine: { show: false }
});
yAxis.push(rightAxis(maUnitTicks, 4.5, true, null));
yAxis.push(rightAxis(maLabels, 6, false, maLabels));

// ---------------------------------------------------------------------------
// Titles, legend, axis names, watermark
// ---------------------------------------------------------------------------
const graphic = [];
taxa.forEach((name, i) => {
  const it = taxonItalic[i];
  let txt;
  if (!it) txt = '{n|' + name + '}';
  else {
    const pre = name.slice(0, name.indexOf(it));
    txt = (pre ? '{n|' + pre + '}' : '') + '{i|' + it + '}';
  }
  graphic.push({
    type: 'text', x: panelLeft[i] + panelWidth / 2, y: 110, scaleX: 0.88, silent: true,
    style: {
      text: txt, align: 'center', verticalAlign: 'middle',
      rich: {
        n: { fontSize: 30, fontFamily: FONT, fill: INK },
        i: { fontSize: 30, fontFamily: FONT, fontStyle: 'italic', fill: INK }
      }
    }
  });
});

const legendColX = [286.6, 510.5, 864.5, 1256.7];
const legendRowY = [1124.5, 1162.5];
siteNames.forEach((name, k) => {
  const c = Math.floor(k / 2), r = k % 2;
  graphic.push({ type: 'rect', silent: true, shape: { x: legendColX[c] - 1.2, y: legendRowY[r] - 13.5, width: 2.4, height: 27 }, style: { fill: siteColors[k] } });
  graphic.push({ type: 'text', silent: true, x: legendColX[c] + 8.5, y: legendRowY[r], scaleX: 0.885,
    style: { text: name, font: '18px ' + FONT, fill: INK, align: 'left', verticalAlign: 'middle' } });
});
graphic.push({ type: 'rect', silent: true, shape: { x: legendColX[0] - 1.7, y: 1191.5, width: 3.4, height: 24 }, style: { fill: INK } });
graphic.push({ type: 'text', silent: true, x: legendColX[0] + 8.5, y: 1203.5, scaleX: 0.885,
  style: { text: 'Average', font: '18px ' + FONT, fill: INK, align: 'left', verticalAlign: 'middle' } });
graphic.push({ type: 'rect', silent: true, shape: { x: 498.5, y: 1191.5, width: 23, height: 24 }, style: { fill: RANGE_FILL } });
graphic.push({ type: 'text', silent: true, x: 532, y: 1203.5, scaleX: 0.885,
  style: { text: 'Range of percentage representations', font: '18px ' + FONT, fill: INK, align: 'left', verticalAlign: 'middle' } });

graphic.push({ type: 'text', silent: true, x: 29, y: 149, scaleX: 0.88,
  style: { text: 'Ma', font: '17px ' + FONT, fill: INK, align: 'center', verticalAlign: 'middle' } });
graphic.push({ type: 'text', silent: true, x: 1671, y: 148, scaleX: 0.88,
  style: { text: 'Ma', font: '17px ' + FONT, fill: INK, align: 'center', verticalAlign: 'middle' } });

graphic.push({ type: 'text', silent: true, x: 62, y: 605, rotation: Math.PI / 2, scaleX: 0.95, scaleY: 1.42, z: 100,
  style: { text: 'Accepted Article', font: '100px "Liberation Serif", "DejaVu Serif", serif', fill: 'rgba(125,125,125,0.85)',
    align: 'center', verticalAlign: 'middle' } });

const chart = echarts.init(document.getElementById('chart'), null, { renderer: 'canvas', width: 1691, height: 1219 });
chart.setOption({ animation: false, backgroundColor: '#ffffff', grid, xAxis, yAxis, series, graphic });
</script>
</body>
</html>
